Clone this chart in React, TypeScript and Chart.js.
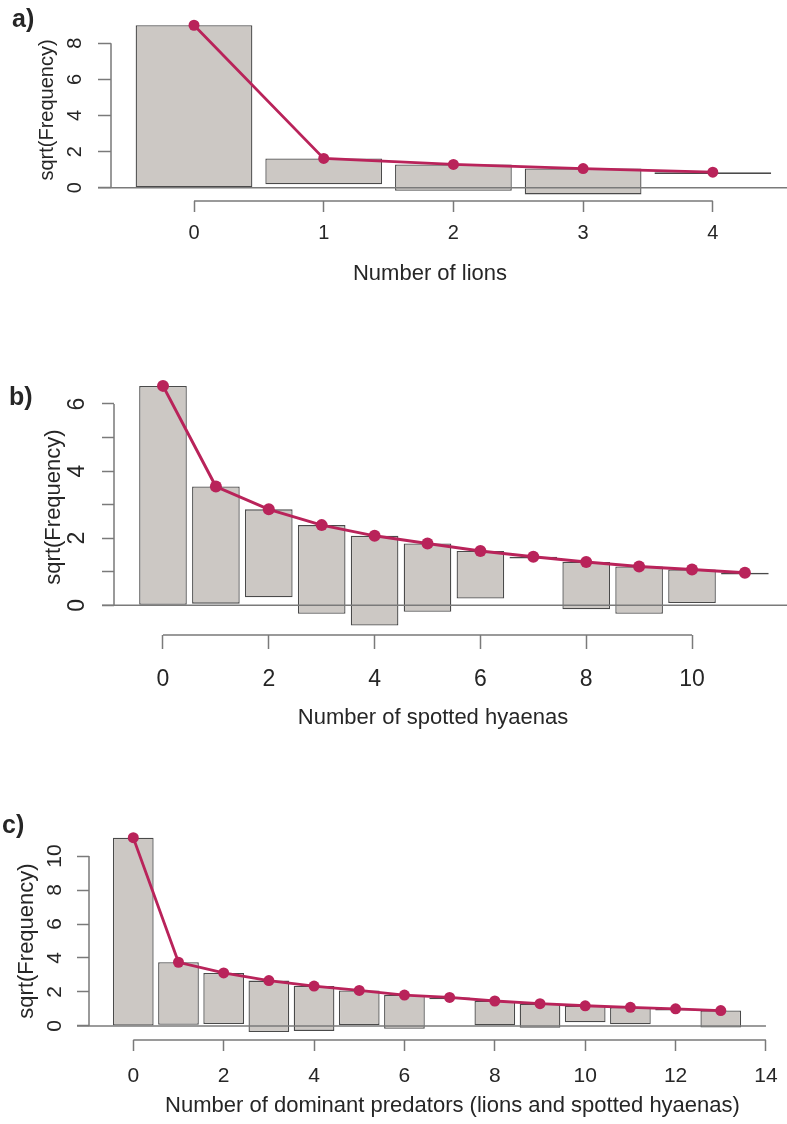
import React, { useEffect, useRef } from 'react';
import { Chart, registerables } from 'chart.js';

Chart.register(...registerables);

// ---------- Data (sqrt scale) ----------
// a) lions
const lionCounts = [0, 1, 2, 3, 4];
const lionExpected = [9.0, 1.62, 1.29, 1.06, 0.86];
const lionObserved = [9.0, 1.43, 1.46, 1.43, 0];
const lionXTicks = [0, 1, 2, 3, 4];
const lionYTicks = [0, 2, 4, 6, 8];
const lionYLabels = ['0', '2', '4', '6', '8'];

// b) spotted hyaenas
const hyaenaCounts = [0, 1, 2, 3, 4, 5, 6, 7, 8, 9, 10, 11];
const hyaenaExpected = [6.54, 3.54, 2.86, 2.39, 2.07, 1.84, 1.62, 1.45, 1.29, 1.16, 1.07, 0.97];
const hyaenaObserved = [6.54, 3.49, 2.62, 2.64, 2.67, 2.03, 1.42, 0, 1.41, 1.41, 1.0, 0];
const hyaenaXTicks = [0, 2, 4, 6, 8, 10];
const hyaenaYTicks = [0, 1, 2, 3, 4, 5, 6];
const hyaenaYLabels = ['0', '', '2', '', '4', '', '6'];

// c) dominant predators
const predatorCounts = [0, 1, 2, 3, 4, 5, 6, 7, 8, 9, 10, 11, 12, 13];
const predatorExpected = [11.08, 3.75, 3.12, 2.67, 2.35, 2.09, 1.82, 1.68, 1.47, 1.31, 1.19, 1.1, 1.01, 0.91];
const predatorObserved = [11.08, 3.68, 3.0, 3.02, 2.64, 2.03, 1.98, 0, 1.43, 1.41, 0.97, 1.0, 0, 1.0];
const predatorXTicks = [0, 2, 4, 6, 8, 10, 12, 14];
const predatorYTicks = [0, 2, 4, 6, 8, 10];
const predatorYLabels = ['0', '2', '4', '6', '8', '10'];

// ---------- Styles ----------
const FONT = "'Liberation Sans', Arial, Helvetica, sans-serif";
const TEXT = '#262626';
const AXIS = '#7a7a7a';
const BAR_FILL = '#ccc8c4';
const BAR_EDGE = '#4a4a4a';
const RED = '#b9235a';

type Panel = {
  label: string;
  counts: number[];
  expected: number[];
  observed: number[];
  xTicks: number[];
  yTicks: number[];
  yLabels: string[];
  xTitle: string;
  top: number;
  width: number;
  height: number;
  area: { left: number; right: number; top: number; bottom: number };
  xRange: [number, number];
  yRange: [number, number];
  baselineEnd: number;
  tickFont: number;
  yTitleFont: number;
  xTitleFont: number;
  yTickLen: number;
  yTickPad: number;
  yTitlePad: number;
  xTickLen: number;
  xTickPad: number;
  xScaleHeight: number;
  pointRadius: number;
  lineWidth: number;
  labelPos: { left: number; top: number };
};

const PANELS: Panel[] = [
  {
    label: 'a)',
    counts: lionCounts, expected: lionExpected, observed: lionObserved,
    xTicks: lionXTicks, yTicks: lionYTicks, yLabels: lionYLabels,
    xTitle: 'Number of lions',
    top: 0, width: 787, height: 300,
    area: { left: 111, right: 749, top: 19, bottom: 201 },
    xRange: [-0.64, 4.279], yRange: [-0.737, 9.346], baselineEnd: 4.6,
    tickFont: 20, yTitleFont: 20, xTitleFont: 22,
    yTickLen: 13, yTickPad: 17.4, yTitlePad: 35,
    xTickLen: 11, xTickPad: 9.7, xScaleHeight: 86.2,
    pointRadius: 5.5, lineWidth: 2.8,
    labelPos: { left: 12, top: 6 },
  },
  {
    label: 'b)',
    counts: hyaenaCounts, expected: hyaenaExpected, observed: hyaenaObserved,
    xTicks: hyaenaXTicks, yTicks: hyaenaYTicks, yLabels: hyaenaYLabels,
    xTitle: 'Number of spotted hyaenas',
    top: 300, width: 787, height: 460,
    area: { left: 114, right: 752, top: 79, bottom: 335 },
    xRange: [-0.926, 11.134], yRange: [-0.885, 6.745], baselineEnd: 11.9,
    tickFont: 23, yTitleFont: 22, xTitleFont: 22,
    yTickLen: 12, yTickPad: 17.6, yTitlePad: 40.8,
    xTickLen: 14, xTickPad: 17.2, xScaleHeight: 96.2,
    pointRadius: 6, lineWidth: 3,
    labelPos: { left: 9, top: 384 },
  },
  {
    label: 'c)',
    counts: predatorCounts, expected: predatorExpected, observed: predatorObserved,
    xTicks: predatorXTicks, yTicks: predatorYTicks, yLabels: predatorYLabels,
    xTitle: 'Number of dominant predators (lions and spotted hyaenas)',
    top: 780, width: 830, height: 344,
    area: { left: 89, right: 816, top: 62, bottom: 260 },
    xRange: [-0.98, 15.107], yRange: [-0.824, 10.824], baselineEnd: 14.0,
    tickFont: 21, yTitleFont: 22, xTitleFont: 22,
    yTickLen: 12, yTickPad: 10.3, yTitlePad: 13.8,
    xTickLen: 11, xTickPad: 13.1, xScaleHeight: 78.9,
    pointRadius: 5.5, lineWidth: 2.8,
    labelPos: { left: 2, top: 812 },
  },
];

// Draws R-style axis lines (first to last tick) and the zero reference line.
const rAxesPlugin = {
  id: 'rAxes',
  afterDatasetsDraw(chart: any, _args: any, opts: any) {
    const { ctx, chartArea, scales } = chart;
    const x = scales.x;
    const y = scales.y;
    const y0 = y.getPixelForValue(0);
    ctx.save();
    ctx.strokeStyle = AXIS;
    ctx.lineWidth = 1.5;
    ctx.beginPath();
    ctx.moveTo(chartArea.left - opts.tickLen, y0);
    ctx.lineTo(x.getPixelForValue(opts.baselineEnd), y0);
    ctx.stroke();
    ctx.restore();
  },
  afterDraw(chart: any) {
    const { ctx, chartArea, scales } = chart;
    const x = scales.x;
    const y = scales.y;
    ctx.save();
    ctx.strokeStyle = AXIS;
    ctx.lineWidth = 1.5;
    ctx.beginPath();
    const yt = y.ticks;
    ctx.moveTo(chartArea.left, y.getPixelForValue(yt[0].value));
    ctx.lineTo(chartArea.left, y.getPixelForValue(yt[yt.length - 1].value));
    const xt = x.ticks;
    ctx.moveTo(x.getPixelForValue(xt[0].value), chartArea.bottom);
    ctx.lineTo(x.getPixelForValue(xt[xt.length - 1].value), chartArea.bottom);
    ctx.stroke();
    ctx.restore();
  },
};

function RootogramPanel({ p }: { p: Panel }) {
  const ref = useRef<HTMLCanvasElement | null>(null);

  useEffect(() => {
    if (!ref.current) return;
    const bars = p.counts.map((c, i) => ({ x: c, y: [p.expected[i] - p.observed[i], p.expected[i]] }));
    const curve = p.counts.map((c, i) => ({ x: c, y: p.expected[i] }));

    const chart = new Chart(ref.current, {
      type: 'line',
      data: {
        datasets: [
          {
            type: 'line',
            data: curve as any,
            borderColor: RED,
            backgroundColor: RED,
            borderWidth: p.lineWidth,
            pointRadius: p.pointRadius,
            pointBackgroundColor: RED,
            pointBorderColor: RED,
            pointBorderWidth: 0,
            tension: 0,
            order: 0,
            clip: false as any,
          },
          {
            type: 'bar',
            data: bars as any,
            backgroundColor: BAR_FILL,
            borderColor: BAR_EDGE,
            borderWidth: 1.3,
            borderSkipped: false,
            barPercentage: 0.9,
            categoryPercentage: 1.0,
            minBarLength: 1.8,
            order: 1,
            clip: false as any,
          } as any,
        ],
      },
      options: {
        animation: false,
        responsive: false,
        maintainAspectRatio: false,
        devicePixelRatio: 1,
        events: [],
        layout: {
          padding: {
            left: 0,
            right: p.width - p.area.right,
            top: p.area.top,
            bottom: p.height - p.area.bottom - p.xScaleHeight,
          },
        },
        plugins: {
          legend: { display: false },
          tooltip: { enabled: false },
          rAxes: { tickLen: p.yTickLen, baselineEnd: p.baselineEnd },
        } as any,
        scales: {
          x: {
            type: 'linear',
            min: p.xRange[0],
            max: p.xRange[1],
            offset: false,
            bounds: 'data',
            afterBuildTicks: (s: any) => {
              s.ticks = p.xTicks.map((v) => ({ value: v }));
            },
            afterFit: (s: any) => {
              s.height = p.xScaleHeight;
              s.paddingLeft = 0;
              s.paddingRight = 0;
              s.paddingTop = 0;
              s.paddingBottom = 0;
            },
            grid: {
              display: true,
              offset: false,
              drawOnChartArea: false,
              drawTicks: true,
              tickLength: p.xTickLen,
              tickColor: AXIS,
              tickWidth: 1.5,
              color: AXIS,
            },
            border: { display: false },
            ticks: {
              autoSkip: false,
              maxRotation: 0,
              minRotation: 0,
              padding: p.xTickPad,
              color: TEXT,
              font: { family: FONT, size: p.tickFont },
              callback: (v: any) => String(v),
            },
            title: {
              display: true,
              text: p.xTitle,
              color: TEXT,
              font: { family: FONT, size: p.xTitleFont },
              padding: { top: 0, bottom: 0 },
            },
          },
          y: {
            type: 'linear',
            min: p.yRange[0],
            max: p.yRange[1],
            bounds: 'data',
            afterBuildTicks: (s: any) => {
              s.ticks = p.yTicks.map((v) => ({ value: v }));
            },
            afterFit: (s: any) => {
              s.width = p.area.left;
              s.paddingTop = 0;
              s.paddingBottom = 0;
              s.paddingLeft = 0;
              s.paddingRight = 0;
            },
            grid: {
              display: true,
              drawOnChartArea: false,
              drawTicks: true,
              tickLength: p.yTickLen,
              tickColor: AXIS,
              tickWidth: 1.5,
              color: AXIS,
            },
            border: { display: false },
            ticks: {
              autoSkip: false,
              minRotation: 90,
              maxRotation: 90,
              crossAlign: 'center',
              padding: p.yTickPad,
              color: TEXT,
              font: { family: FONT, size: p.tickFont },
              callback: (_v: any, i: number) => p.yLabels[i],
            },
            title: {
              display: true,
              text: 'sqrt(Frequency)',
              color: TEXT,
              font: { family: FONT, size: p.yTitleFont },
              padding: { top: p.yTitlePad, bottom: 0 },
            },
          },
        },
      } as any,
      plugins: [rAxesPlugin as any],
    });
    return () => chart.destroy();
  }, [p]);

  return (
    <canvas
      ref={ref}
      width={p.width}
      height={p.height}
      style={{ position: 'absolute', left: 0, top: p.top, width: p.width, height: p.height }}
    />
  );
}

export default function App() {
  return (
    <div
      style={{
        position: 'absolute',
        left: 0,
        top: 0,
        width: 787,
        height: 1124,
        overflow: 'hidden',
        background: '#ffffff',
      }}
    >
      {PANELS.map((p) => (
        <RootogramPanel key={p.label} p={p} />
      ))}
      {PANELS.map((p) => (
        <span
          key={'lab' + p.label}
          style={{
            position: 'absolute',
            left: p.labelPos.left,
            top: p.labelPos.top,
            fontFamily: FONT,
            fontWeight: 'bold',
            fontSize: 25,
            lineHeight: 1,
            color: TEXT,
            whiteSpace: 'nowrap',
          }}
        >
          {p.label}
        </span>
      ))}
    </div>
  );
}
